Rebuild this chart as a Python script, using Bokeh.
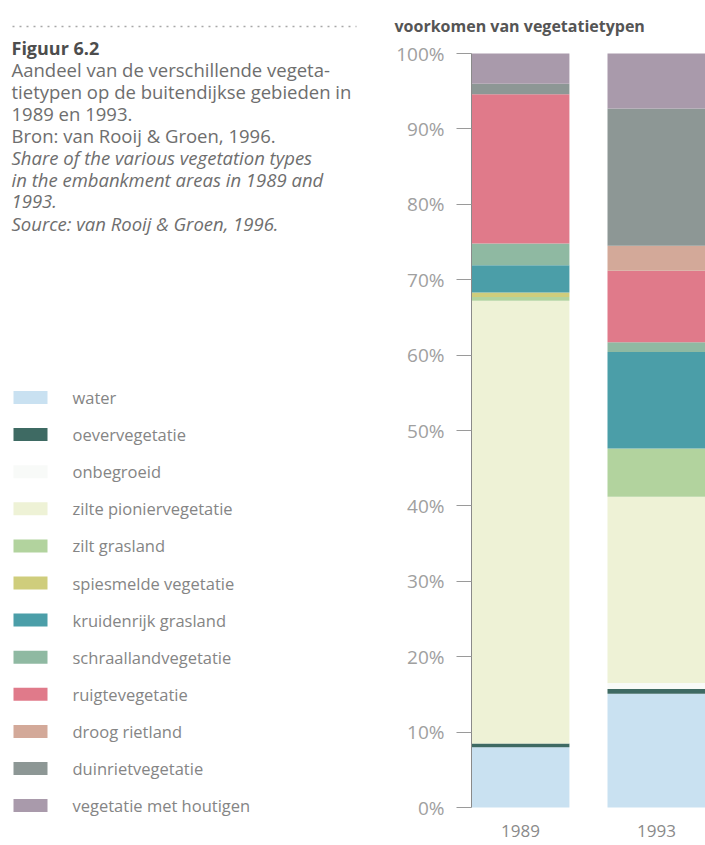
from bokeh.plotting import figure
from bokeh.models import (Range1d, FixedTicker, PrintfTickFormatter, ColumnDataSource,
                          LinearAxis)
from bokeh.core.properties import value
from bokeh.embed import file_html
from bokeh.resources import INLINE

# ---------------- data ----------------
years = ["1989", "1993"]
veg_types = [
    "water", "oevervegetatie", "onbegroeid", "zilte pioniervegetatie",
    "zilt grasland", "spiesmelde vegetatie", "kruidenrijk grasland",
    "schraallandvegetatie", "ruigtevegetatie", "droog rietland",
    "duinrietvegetatie", "vegetatie met houtigen",
]
share_1989 = [8.0, 0.5, 0.0, 58.7, 0.5, 0.6, 3.6, 2.9, 19.8, 0.0, 1.4, 4.0]
share_1993 = [15.1, 0.6, 0.8, 24.7, 6.4, 0.0, 12.8, 1.3, 9.5, 3.3, 18.2, 7.3]
veg_colors = [
    "#c9e1f1", "#3e6a63", "#f8faf8", "#eef2d6", "#b2d39e", "#cfcd7c",
    "#4b9ea8", "#8fb9a2", "#e07a8a", "#d3a999", "#8d9795", "#a99aab",
]
y_ticks = [0, 10, 20, 30, 40, 50, 60, 70, 80, 90, 100]

caption_title = "Figuur 6.2"
caption_lines = [
    ("Aandeel van de verschillende vegeta-", "normal"),
    ("tietypen op de buitendijkse gebieden in", "normal"),
    ("1989 en 1993.", "normal"),
    ("Bron: van Rooij & Groen, 1996.", "normal"),
    ("Share of the various vegetation types", "italic"),
    ("in the embankment areas in 1989 and", "italic"),
    ("1993.", "italic"),
    ("Source: van Rooij & Groen, 1996.", "italic"),
]
chart_title = "voorkomen van vegetatietypen"

# ---------------- layout constants (page pixels) ----------------
W, H = 705, 845
Y100, Y0 = 53, 807            # page y of 100 % and 0 %
BAR_LEFT = 471                # page x of the left edge of the first bar
BAR_UNIT = 136                # px between bar centres
bar_w = 0.72                  # bar width in category units
FONT = value("Open Sans")

px_per_pct = (Y0 - Y100) / 100.0
pct_range = Range1d(-(H - Y0) / px_per_pct, 100 + Y100 / px_per_pct)
first_centre = BAR_LEFT + bar_w / 2 * BAR_UNIT
bar_range = Range1d(-first_centre / BAR_UNIT, (W - first_centre) / BAR_UNIT)

# one canvas; default ranges are page pixels for the caption and legend
p = figure(width=W, height=H, x_range=Range1d(0, W), y_range=Range1d(H, 0),
           x_axis_type=None, y_axis_type=None, toolbar_location=None,
           output_backend="svg", min_border=0)
p.outline_line_color = None
p.extra_x_ranges = {"bars": bar_range}
p.extra_y_ranges = {"pct": pct_range}

# ---------------- stacked bars ----------------
bar_pos = list(range(len(years)))
src = ColumnDataSource({"pos": bar_pos,
                        **{t: [a, b] for t, a, b in zip(veg_types, share_1989, share_1993)}})
p.vbar_stack(veg_types, x="pos", width=bar_w, color=veg_colors, line_color=None,
             source=src, x_range_name="bars", y_range_name="pct")

yax = LinearAxis(x_range_name="bars", y_range_name="pct",
                 fixed_location=bar_pos[0] - bar_w / 2, bounds=(0, 100))
yax.ticker = FixedTicker(ticks=y_ticks)
yax.formatter = PrintfTickFormatter(format="%d%%")
yax.axis_line_color = "#8a8a8a"
yax.axis_line_width = 1
yax.major_tick_line_color = "#9a9a9a"
yax.major_tick_out = 15
yax.major_tick_in = 0
yax.minor_tick_line_color = None
yax.major_label_standoff = 12
yax.major_label_text_font = "Open Sans"
yax.major_label_text_font_size = "19px"
yax.major_label_text_color = "#a0a0a0"
p.add_layout(yax, "left")

xax = LinearAxis(x_range_name="bars", y_range_name="pct", fixed_location=0)
xax.ticker = FixedTicker(ticks=bar_pos)
xax.major_label_overrides = {i: y for i, y in zip(bar_pos, years)}
xax.axis_line_color = None
xax.major_tick_line_color = None
xax.minor_tick_line_color = None
xax.major_label_standoff = 11
xax.major_label_text_font = "Open Sans"
xax.major_label_text_font_size = "17px"
xax.major_label_text_color = "#8a8a8a"
p.add_layout(xax, "below")

# ---------------- chart title ----------------
p.text(x=[394], y=[25], text=[chart_title], text_font=FONT, text_font_size="16px",
       text_font_style="bold", text_color="#555555", text_baseline="middle")

# ---------------- caption ----------------
p.line(x=[12, 356], y=[26, 26], line_color="#a8a8a8", line_width=1.6, line_dash="2 5")
p.text(x=[11], y=[47], text=[caption_title], text_font=FONT, text_font_size="18px",
       text_font_style="bold", text_color="#4d4d4d", text_baseline="middle")
for i, (line, style) in enumerate(caption_lines):
    p.text(x=[11], y=[47 + 22 * (i + 1)], text=[line], text_font=FONT,
           text_font_size="18.5px", text_font_style=style, text_color="#6e6e6e",
           text_baseline="middle")

# ---------------- legend ----------------
leg_y = [397 + 37.1 * i for i in range(len(veg_types))]
p.rect(x=[30] * len(veg_types), y=leg_y, width=34, height=13, color=veg_colors,
       line_color=None)
p.text(x=[72] * len(veg_types), y=leg_y, text=veg_types, text_font=FONT,
       text_font_size="16.5px", text_color="#858585", text_baseline="middle")

open("out.html", "w").write(file_html(p, INLINE))
